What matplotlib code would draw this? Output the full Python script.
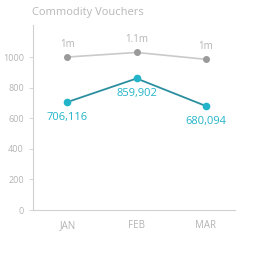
"""
Commodity vouchers line chart.
"""
import matplotlib
matplotlib.use("Agg")
import matplotlib.pyplot as plt

# --------------------------- data --------------------------- #
months = ["JAN", "FEB", "MAR"]
total = [1000, 1030, 985]            # thousands
total_labels = ["1m", "1.1m", "1m"]
vouchers = [706.116, 859.902, 680.094]  # thousands
voucher_labels = ["706,116", "859,902", "680,094"]
yticks = [0, 200, 400, 600, 800, 1000]

TEAL = "#22b4c8"
TXT = "#b4b4b4"

plt.rcParams["font.family"] = ["Open Sans", "DejaVu Sans"]

fig = plt.figure(figsize=(2.57, 2.54), dpi=100)
ax = fig.add_axes([0.128, 0.173, 0.786, 0.729])

x = list(range(len(months)))
ax.plot(x, total, color="#cacaca", lw=1.2, marker="o", ms=4,
        mfc="#9a9a9a", mec="#9a9a9a", zorder=3)
ax.plot(x, vouchers, color="#2b8f9f", lw=1.3, marker="o", ms=4.5,
        mfc=TEAL, mec=TEAL, zorder=4)

for xi, v, s in zip(x, total, total_labels):
    ax.annotate(s, (xi, v), xytext=(0, 5), textcoords="offset points",
                ha="center", va="bottom", fontsize=7, color=TXT)
for xi, v, s in zip(x, vouchers, voucher_labels):
    ax.annotate(s, (xi, v), xytext=(0, -7), textcoords="offset points",
                ha="center", va="top", fontsize=8, color=TEAL)

ax.set_xlim(-0.5, 2.42)
ax.set_ylim(0, 1210)
ax.set_xticks(x)
ax.set_xticklabels(months)
ax.set_yticks(yticks)
ax.tick_params(axis="both", labelsize=6.5, colors="#d0d0d0", labelcolor=TXT,
               length=3, width=0.6)
ax.tick_params(axis="x", length=0, pad=7, labelsize=7)
for side in ["top", "right"]:
    ax.spines[side].set_visible(False)
for side in ["left", "bottom"]:
    ax.spines[side].set_color("#d0d0d0")
    ax.spines[side].set_linewidth(0.8)

fig.text(0.125, 0.952, "Commodity Vouchers", fontsize=8, color="#b8b8b8",
         ha="left", va="center")

fig.savefig("out.png", dpi=100)
